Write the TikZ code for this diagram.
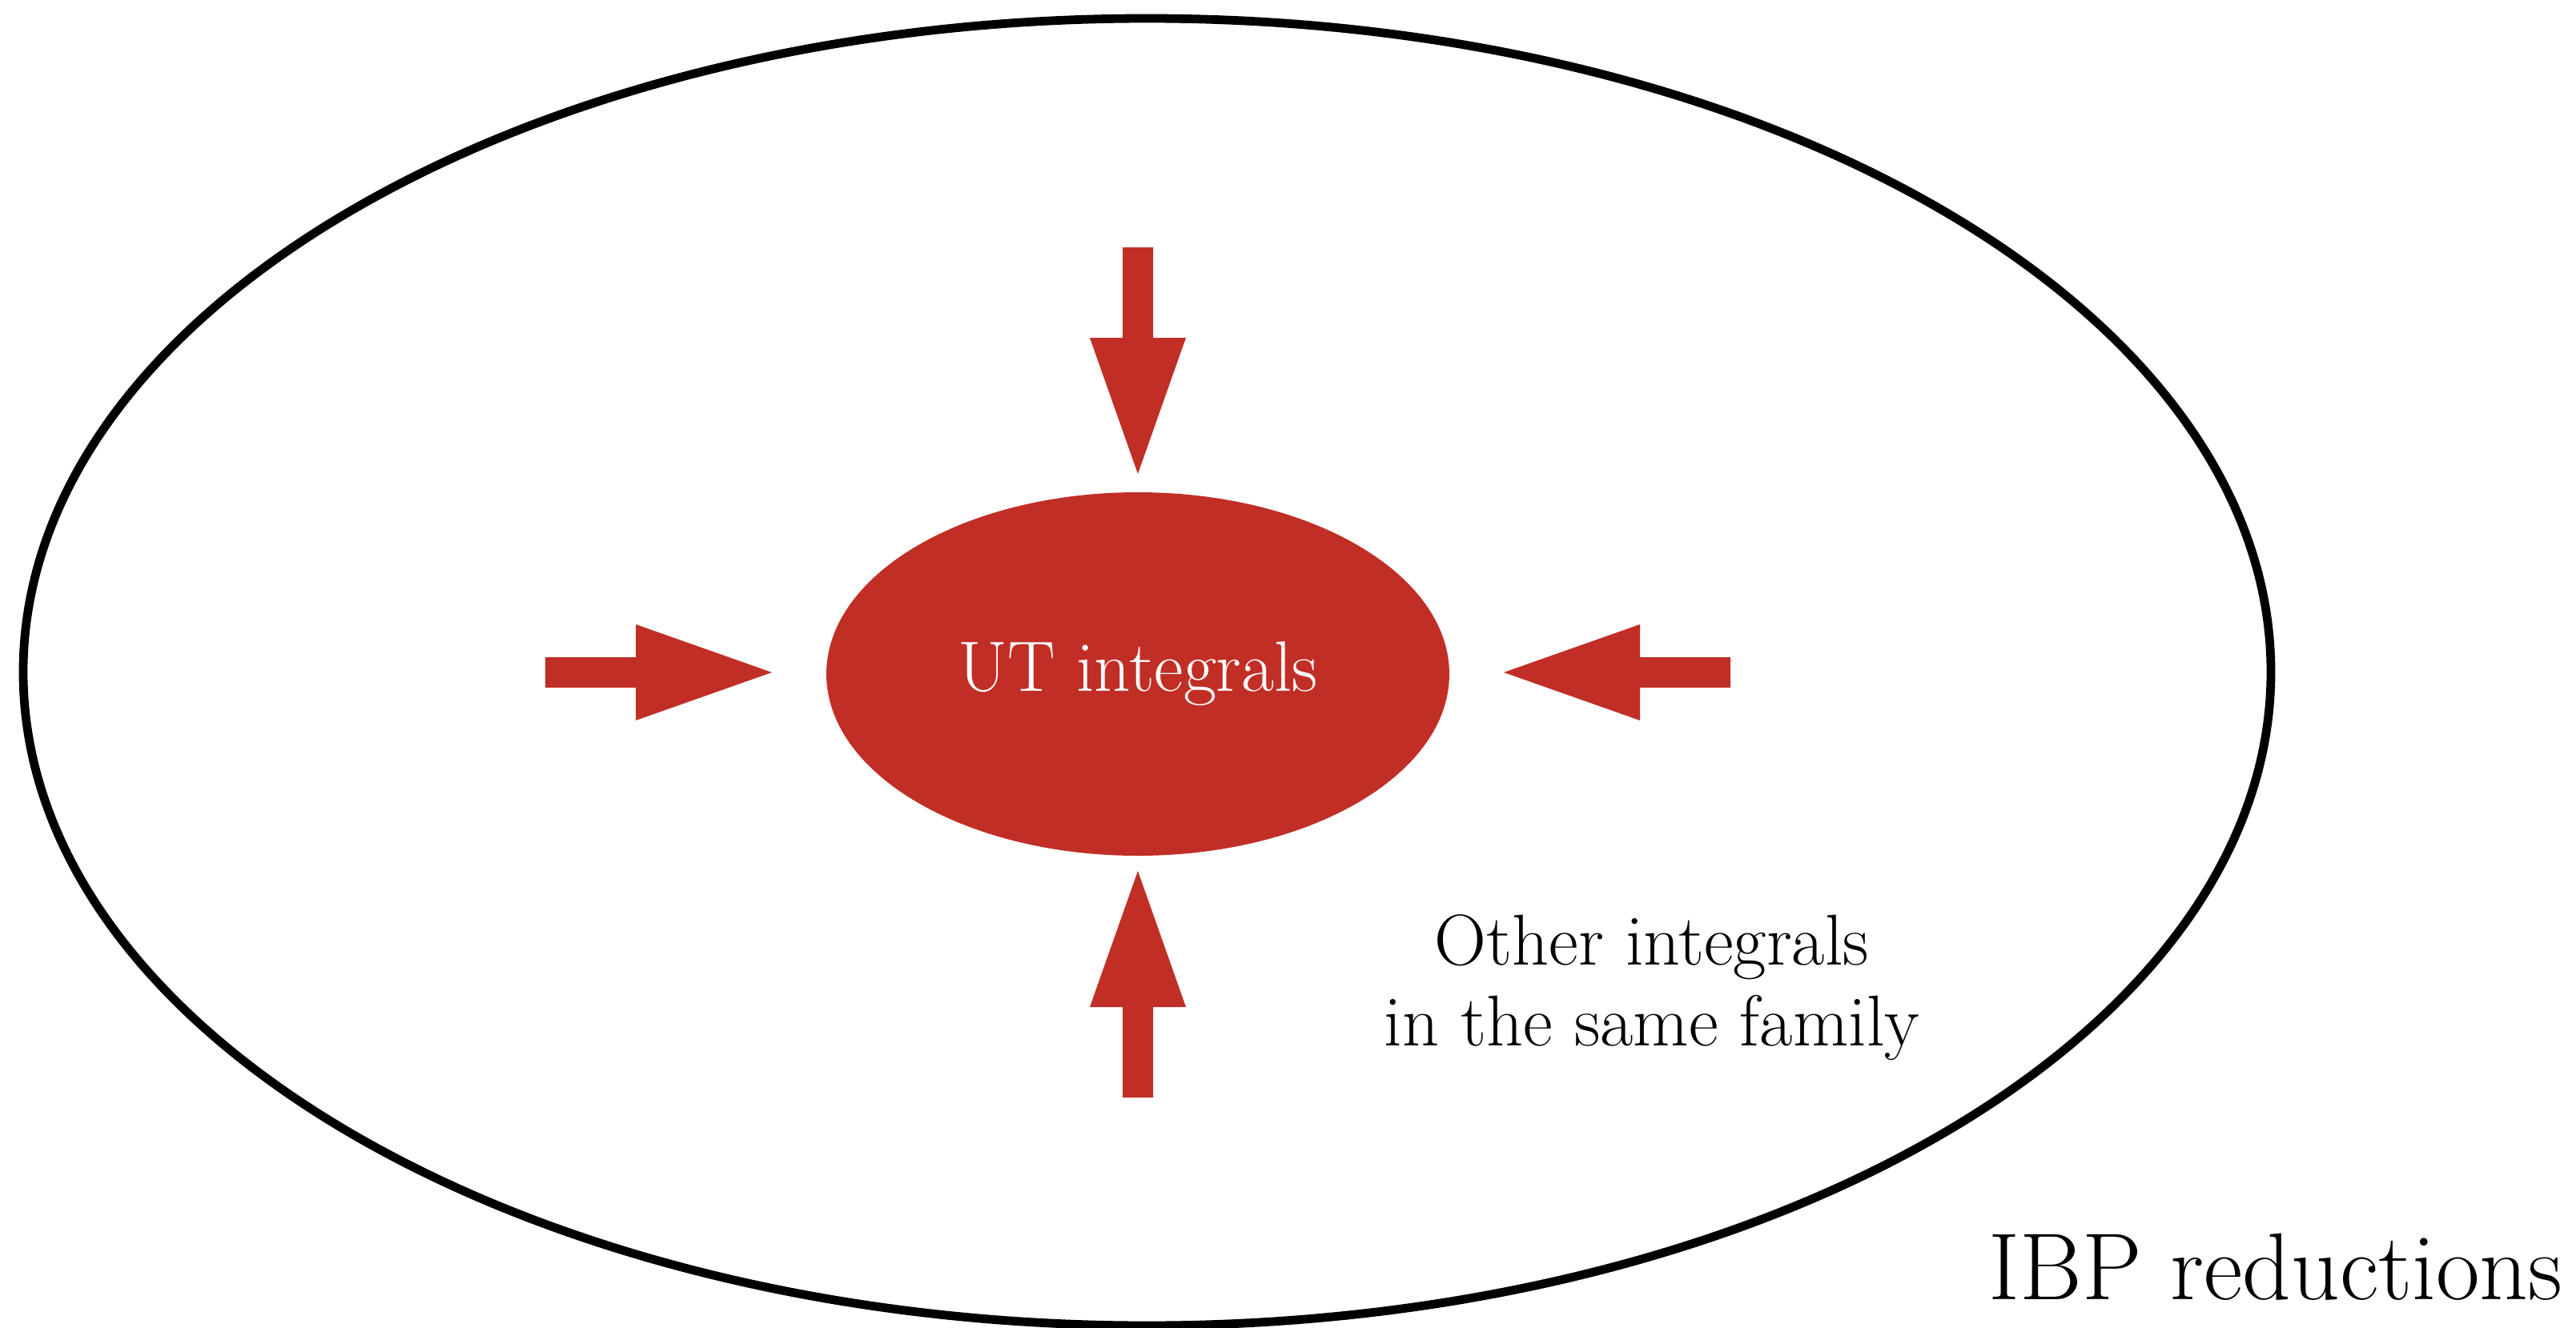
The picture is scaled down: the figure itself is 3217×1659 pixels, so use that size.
\documentclass[tikz,border=0pt]{standalone}
\usetikzlibrary{shapes.geometric}

\definecolor{utred}{RGB}{193,46,37}

\tikzset{
  family/.style={ellipse, draw=black, line width=2.7pt,
    minimum width=701.75pt, minimum height=408.25pt, inner sep=0pt},
  core/.style={ellipse, fill=utred, text=white,
    minimum width=194.5pt, minimum height=113.5pt, inner sep=0pt,
    font=\fontsize{22.3}{25.25}\selectfont},
  blockarrow/.style={fill=utred, draw=none},
  caption/.style={inner sep=0pt, text=black,
    font=\fontsize{22.5}{25.25}\selectfont},
  bigcaption/.style={inner sep=0pt, text=black,
    font=\fontsize{29.7}{34}\selectfont}
}

\begin{document}
\begin{tikzpicture}[x=0.25pt,y=-0.25pt]
  \useasboundingbox (0,0) rectangle (3217,1659);

  % outer family of integrals
  \node[family] (ibp) at (1432.5,839.5) {};

  % UT core
  \node[core] (ut) at (1421,842) {UT integrals};

  % block arrows pointing at the core
  \fill[blockarrow] (681,821) -- (794,821) -- (794,780) -- (964,840)
    -- (794,900) -- (794,859) -- (681,859) -- cycle;
  \fill[blockarrow] (2161,821) -- (2048,821) -- (2048,780) -- (1878,840)
    -- (2048,900) -- (2048,859) -- (2161,859) -- cycle;
  \fill[blockarrow] (1402,309) -- (1402,422) -- (1361,422) -- (1421,592)
    -- (1481,422) -- (1440,422) -- (1440,309) -- cycle;
  \fill[blockarrow] (1402,1371) -- (1402,1258) -- (1361,1258) -- (1421,1088)
    -- (1481,1258) -- (1440,1258) -- (1440,1371) -- cycle;

  % labels
  \node[caption, align=center, anchor=center] (other) at (2063,1234)
    {Other integrals\\in the same family};
  \node[bigcaption, anchor=base east] (ibplabel) at (3201,1623)
    {IBP reductions};
\end{tikzpicture}
\end{document}
